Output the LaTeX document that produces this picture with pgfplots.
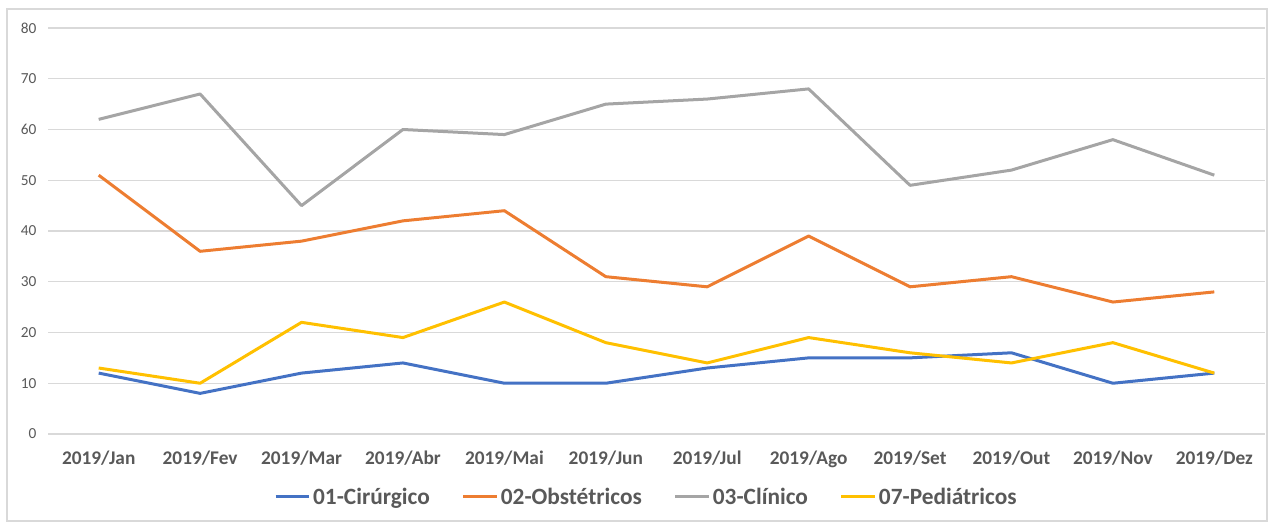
\documentclass[border=0pt]{standalone}
\usepackage{pgfplots}
\pgfplotsset{compat=1.18}
\usepackage{fontspec}
\setmainfont{Carlito}
\definecolor{cBlue}{HTML}{4472C4}
\definecolor{cOrange}{HTML}{ED7D31}
\definecolor{cGray}{HTML}{A5A5A5}
\definecolor{cGold}{HTML}{FFC000}
\definecolor{gridc}{HTML}{D9D9D9}
\definecolor{tickc}{HTML}{595959}
\begin{document}
\begin{tikzpicture}[x=0.75pt,y=0.75pt]
\path (0,0) rectangle (1272,524);
\draw[gridc, line width=1pt] (7,3) rectangle (1267,515);
\begin{axis}[
  at={(36pt,67.5pt)}, anchor=south west,
  scale only axis, width=912.75pt, height=304.5pt,
  xmin=-0.5, xmax=11.5, ymin=0, ymax=80,
  xtick={0,...,11},
  xticklabels={2019/Jan,2019/Fev,2019/Mar,2019/Abr,2019/Mai,2019/Jun,2019/Jul,2019/Ago,2019/Set,2019/Out,2019/Nov,2019/Dez},
  ytick={0,10,...,80},
  axis line style={draw=none},
  major tick length=0pt,
  ymajorgrids, grid style={gridc, line width=1pt},
  /pgf/number format/assume math mode=true,
  yticklabel style={font=\fontsize{11.5}{12}\selectfont, text=tickc, inner sep=0pt, xshift=-8.5pt},
  xticklabel style={font=\fontsize{14.5}{15}\selectfont\bfseries, text=tickc, inner sep=0pt, anchor=north, yshift=-12.5pt},
  legend columns=4,
  legend style={at={(0.492,-0.155)}, anchor=center, draw=none, fill=none,
    font=\fontsize{17.5}{18}\selectfont\bfseries, text=tickc,
    /tikz/every even column/.append style={column sep=22pt}},
  legend image code/.code={\draw[#1, line width=2.25pt] (0pt,0pt) -- (25pt,0pt);},
  every axis plot/.append style={line width=2.25pt, line join=round, mark=none},
]
\addplot[cBlue] coordinates {(0,12) (1,8) (2,12) (3,14) (4,10) (5,10) (6,13) (7,15) (8,15) (9,16) (10,10) (11,12)};
\addlegendentry{01-Cirúrgico}
\addplot[cOrange] coordinates {(0,51) (1,36) (2,38) (3,42) (4,44) (5,31) (6,29) (7,39) (8,29) (9,31) (10,26) (11,28)};
\addlegendentry{02-Obstétricos}
\addplot[cGray] coordinates {(0,62) (1,67) (2,45) (3,60) (4,59) (5,65) (6,66) (7,68) (8,49) (9,52) (10,58) (11,51)};
\addlegendentry{03-Clínico}
\addplot[cGold] coordinates {(0,13) (1,10) (2,22) (3,19) (4,26) (5,18) (6,14) (7,19) (8,16) (9,14) (10,18) (11,12)};
\addlegendentry{07-Pediátricos}
\end{axis}
\end{tikzpicture}
\end{document}
